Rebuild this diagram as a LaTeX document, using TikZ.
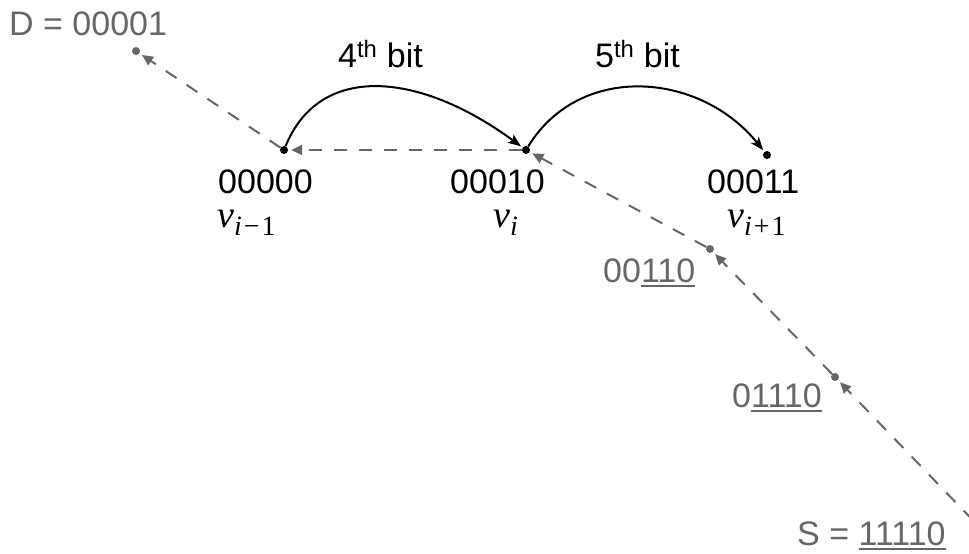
\documentclass[tikz,border=0pt]{standalone}
\usepackage{fontspec}
\setmainfont{Liberation Sans}
\newfontfamily\tnr{Liberation Serif}
\usetikzlibrary{arrows.meta}
\definecolor{gry}{RGB}{102,102,102}
\newcommand\ulin[1]{\setbox0\hbox{#1}\rlap{\rule[-5pt]{\wd0}{1.6pt}}\box0}
\newcommand\vsub[1]{{\tnr\itshape v}\raisebox{-8pt}{\fontsize{28}{28}\selectfont\tnr #1}}
\begin{document}
\begin{tikzpicture}[x=1pt,y=-1pt,
 lab/.style={inner sep=0pt, anchor=base west, font=\fontsize{34}{40}\selectfont},
 glab/.style={lab, text=gry},
 vlab/.style={inner sep=0pt, anchor=base west, font=\fontsize{38}{40}\selectfont},
 bdot/.style={circle, fill=black, inner sep=0pt, minimum size=8pt},
 gdot/.style={circle, fill=gry, inner sep=0pt, minimum size=8pt},
 gdash/.style={draw=gry, line width=2pt, dash pattern=on 13pt off 12pt, -{Triangle[length=11pt,width=10pt]}, shorten >=3pt},
 hop/.style={draw=black, line width=2pt, -{Stealth[length=13pt,width=10pt,inset=3pt]}, shorten >=2pt}]
\useasboundingbox (0,0) rectangle (969,554);
\clip (0,0) rectangle (969,554);
% points
\node[gdot] (d) at (136,51) {};
\node[bdot] (a) at (284,150) {};
\node[bdot] (b) at (526,150) {};
\node[bdot] (c) at (767,155) {};
\node[gdot] (e) at (710,249) {};
\node[gdot] (f) at (835,377) {};
\coordinate (s) at (990,538);
% dashed path
\draw[gdash] (s) -- (f);
\draw[gdash] (f) -- (e);
\draw[gdash] (e) -- (b);
\draw[gdash] (b) -- (a);
\draw[gdash] (a) -- (d);
% hops
\draw[hop] (a) .. controls (320,62) and (420,72) .. (b);
\draw[hop] (b) .. controls (580,62) and (700,72) .. (c);
% labels
\node[lab] (ta) at (218,193) {00000};
\node[lab] (tb) at (450,193) {00010};
\node[lab] (tc) at (707,193) {00011};
\node[glab] (td) at (9,35) {D = 00001};
\node[glab] (te) at (603,282) {00\ulin{110}};
\node[glab] (tf) at (732,407) {0\ulin{1110}};
\node[glab] (ts) at (797,545) {S = \ulin{11110}};
\node[lab] (b4) at (338,67) {4\textsuperscript{th} bit};
\node[lab] (b5) at (595,67) {5\textsuperscript{th} bit};
\node[vlab] (va) at (217,227) {\vsub{\itshape i\upshape\hspace{2pt}−\hspace{2pt}1}};
\node[vlab] (vb) at (493,227) {\vsub{\itshape i}};
\node[vlab] (vc) at (727,227) {\vsub{\itshape i\upshape\hspace{2pt}+\hspace{2pt}1}};
\end{tikzpicture}
\end{document}
